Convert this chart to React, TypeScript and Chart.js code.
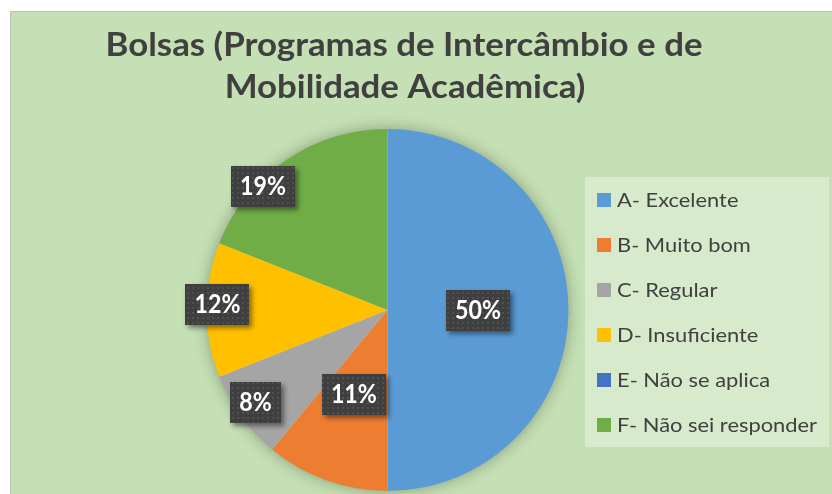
import React, { useEffect, useRef } from "react";
import { Chart, registerables } from "chart.js";
Chart.register(...registerables);

const titleLines = ["Bolsas (Programas de Intercâmbio e de", "Mobilidade Acadêmica)"];
const categories = [
  "A- Excelente",
  "B- Muito bom",
  "C- Regular",
  "D- Insuficiente",
  "E- Não se aplica",
  "F- Não sei responder",
];
const percentages = [50, 11, 8, 12, 0, 19];
const sliceColors = ["#5B9BD5", "#ED7D31", "#A5A5A5", "#FFC000", "#4472C4", "#70AD47"];
// label placement style (fraction of radius, angle shift in degrees)
const labelRadius = [0.5, 0.5, 0.89, 0.94, 0.5, 0.97];
const labelAngleShift = [0, 2, 1, 2, 0, -11];

const W = 832;
const H = 494;
const FONT = "Lato, 'Open Sans', sans-serif";
const TEXT = "#404040";
const BG = "#C5E0B4";

function scaledText(ctx: CanvasRenderingContext2D, text: string, x: number, y: number, sx: number, align: "left" | "center") {
  ctx.save();
  ctx.translate(x, y);
  ctx.scale(sx, 1);
  ctx.textAlign = align;
  ctx.fillText(text, 0, 0);
  ctx.restore();
}

let dotPattern: CanvasPattern | null = null;
function getPattern(ctx: CanvasRenderingContext2D) {
  if (dotPattern) return dotPattern;
  const c = document.createElement("canvas");
  c.width = 5;
  c.height = 5;
  const p = c.getContext("2d")!;
  p.fillStyle = "#3F3F3F";
  p.fillRect(0, 0, 5, 5);
  p.fillStyle = "#505050";
  p.fillRect(2, 2, 2, 2);
  dotPattern = ctx.createPattern(c, "repeat");
  return dotPattern;
}

const decor = {
  id: "decor",
  beforeDraw(chart: any) {
    const ctx: CanvasRenderingContext2D = chart.ctx;
    ctx.save();
    ctx.fillStyle = "#FFFFFF";
    ctx.fillRect(0, 0, W, H);
    ctx.fillStyle = BG;
    ctx.fillRect(11, 12, W - 11, H - 12);
    ctx.strokeStyle = "#C0C0C0";
    ctx.lineWidth = 1;
    ctx.beginPath();
    ctx.moveTo(10.5, H);
    ctx.lineTo(10.5, 11.5);
    ctx.lineTo(W, 11.5);
    ctx.stroke();

    // title
    ctx.fillStyle = TEXT;
    ctx.textBaseline = "alphabetic";
    ctx.font = `bold 33px ${FONT}`;
    const tw = ctx.measureText(titleLines[0]).width;
    const tsx = 597 / tw;
    scaledText(ctx, titleLines[0], 404, 56, tsx, "center");
    scaledText(ctx, titleLines[1], 405, 98, tsx, "center");

    // legend
    ctx.fillStyle = "rgba(255,255,255,0.32)";
    ctx.fillRect(585, 177, 244, 270);
    ctx.font = `20px ${FONT}`;
    const lw = ctx.measureText(categories[categories.length - 1]).width;
    const lsx = 200 / lw;
    categories.forEach((c, i) => {
      const cy = 200 + 45 * i;
      ctx.fillStyle = sliceColors[i];
      ctx.fillRect(597, cy - 7, 14, 14);
      ctx.fillStyle = TEXT;
      scaledText(ctx, c, 617, cy + 7, lsx, "left");
    });
    ctx.restore();
  },
  beforeDatasetsDraw(chart: any) {
    const arc = chart.getDatasetMeta(0).data[0];
    if (!arc) return;
    const ctx: CanvasRenderingContext2D = chart.ctx;
    ctx.save();
    ctx.shadowColor = "rgba(0,0,0,0.35)";
    ctx.shadowBlur = 16;
    ctx.fillStyle = BG;
    ctx.beginPath();
    ctx.arc(arc.x, arc.y, arc.outerRadius - 1, 0, Math.PI * 2);
    ctx.fill();
    ctx.restore();
  },
  afterDatasetsDraw(chart: any) {
    const ctx: CanvasRenderingContext2D = chart.ctx;
    const meta = chart.getDatasetMeta(0);
    ctx.save();
    ctx.font = `bold 26px ${FONT}`;
    const sx = 46 / ctx.measureText("50%").width;
    meta.data.forEach((a: any, i: number) => {
      const v = percentages[i];
      if (!v) return;
      const mid = (a.startAngle + a.endAngle) / 2 + (labelAngleShift[i] * Math.PI) / 180;
      const r = a.outerRadius * labelRadius[i];
      const cx = a.x + Math.cos(mid) * r;
      const cy = a.y + Math.sin(mid) * r;
      const txt = `${v}%`;
      const tw = ctx.measureText(txt).width * sx;
      const bw = Math.round(tw + 18);
      const bh = 41;
      const bx = Math.round(cx - bw / 2);
      const by = Math.round(cy - bh / 2);
      ctx.save();
      ctx.shadowColor = "rgba(0,0,0,0.45)";
      ctx.shadowBlur = 5;
      ctx.shadowOffsetX = 3;
      ctx.shadowOffsetY = 3;
      ctx.fillStyle = "#3F3F3F";
      ctx.fillRect(bx, by, bw, bh);
      ctx.restore();
      ctx.fillStyle = getPattern(ctx) as any;
      ctx.fillRect(bx, by, bw, bh);
      ctx.fillStyle = "#FFFFFF";
      ctx.textBaseline = "alphabetic";
      scaledText(ctx, txt, cx, cy + 9, sx, "center");
    });
    ctx.restore();
  },
};

export default function App() {
  const ref = useRef<HTMLCanvasElement>(null);
  useEffect(() => {
    document.body.style.margin = "0";
    const canvas = ref.current!;
    const chart = new Chart(canvas, {
      type: "pie",
      data: {
        labels: categories,
        datasets: [
          {
            data: percentages,
            backgroundColor: sliceColors,
            borderWidth: 0,
            hoverOffset: 0,
          },
        ],
      },
      options: {
        responsive: false,
        animation: false,
        events: [],
        rotation: 0,
        layout: { padding: { left: 206, right: 263, top: 129, bottom: 3 } },
        plugins: {
          legend: { display: false },
          title: { display: false },
          tooltip: { enabled: false },
        },
      },
      plugins: [decor],
    });
    return () => chart.destroy();
  }, []);
  return (
    <div style={{ position: "fixed", left: 0, top: 0, width: W, height: H }}>
      <canvas ref={ref} width={W} height={H} style={{ width: W, height: H, display: "block" }} />
    </div>
  );
}
